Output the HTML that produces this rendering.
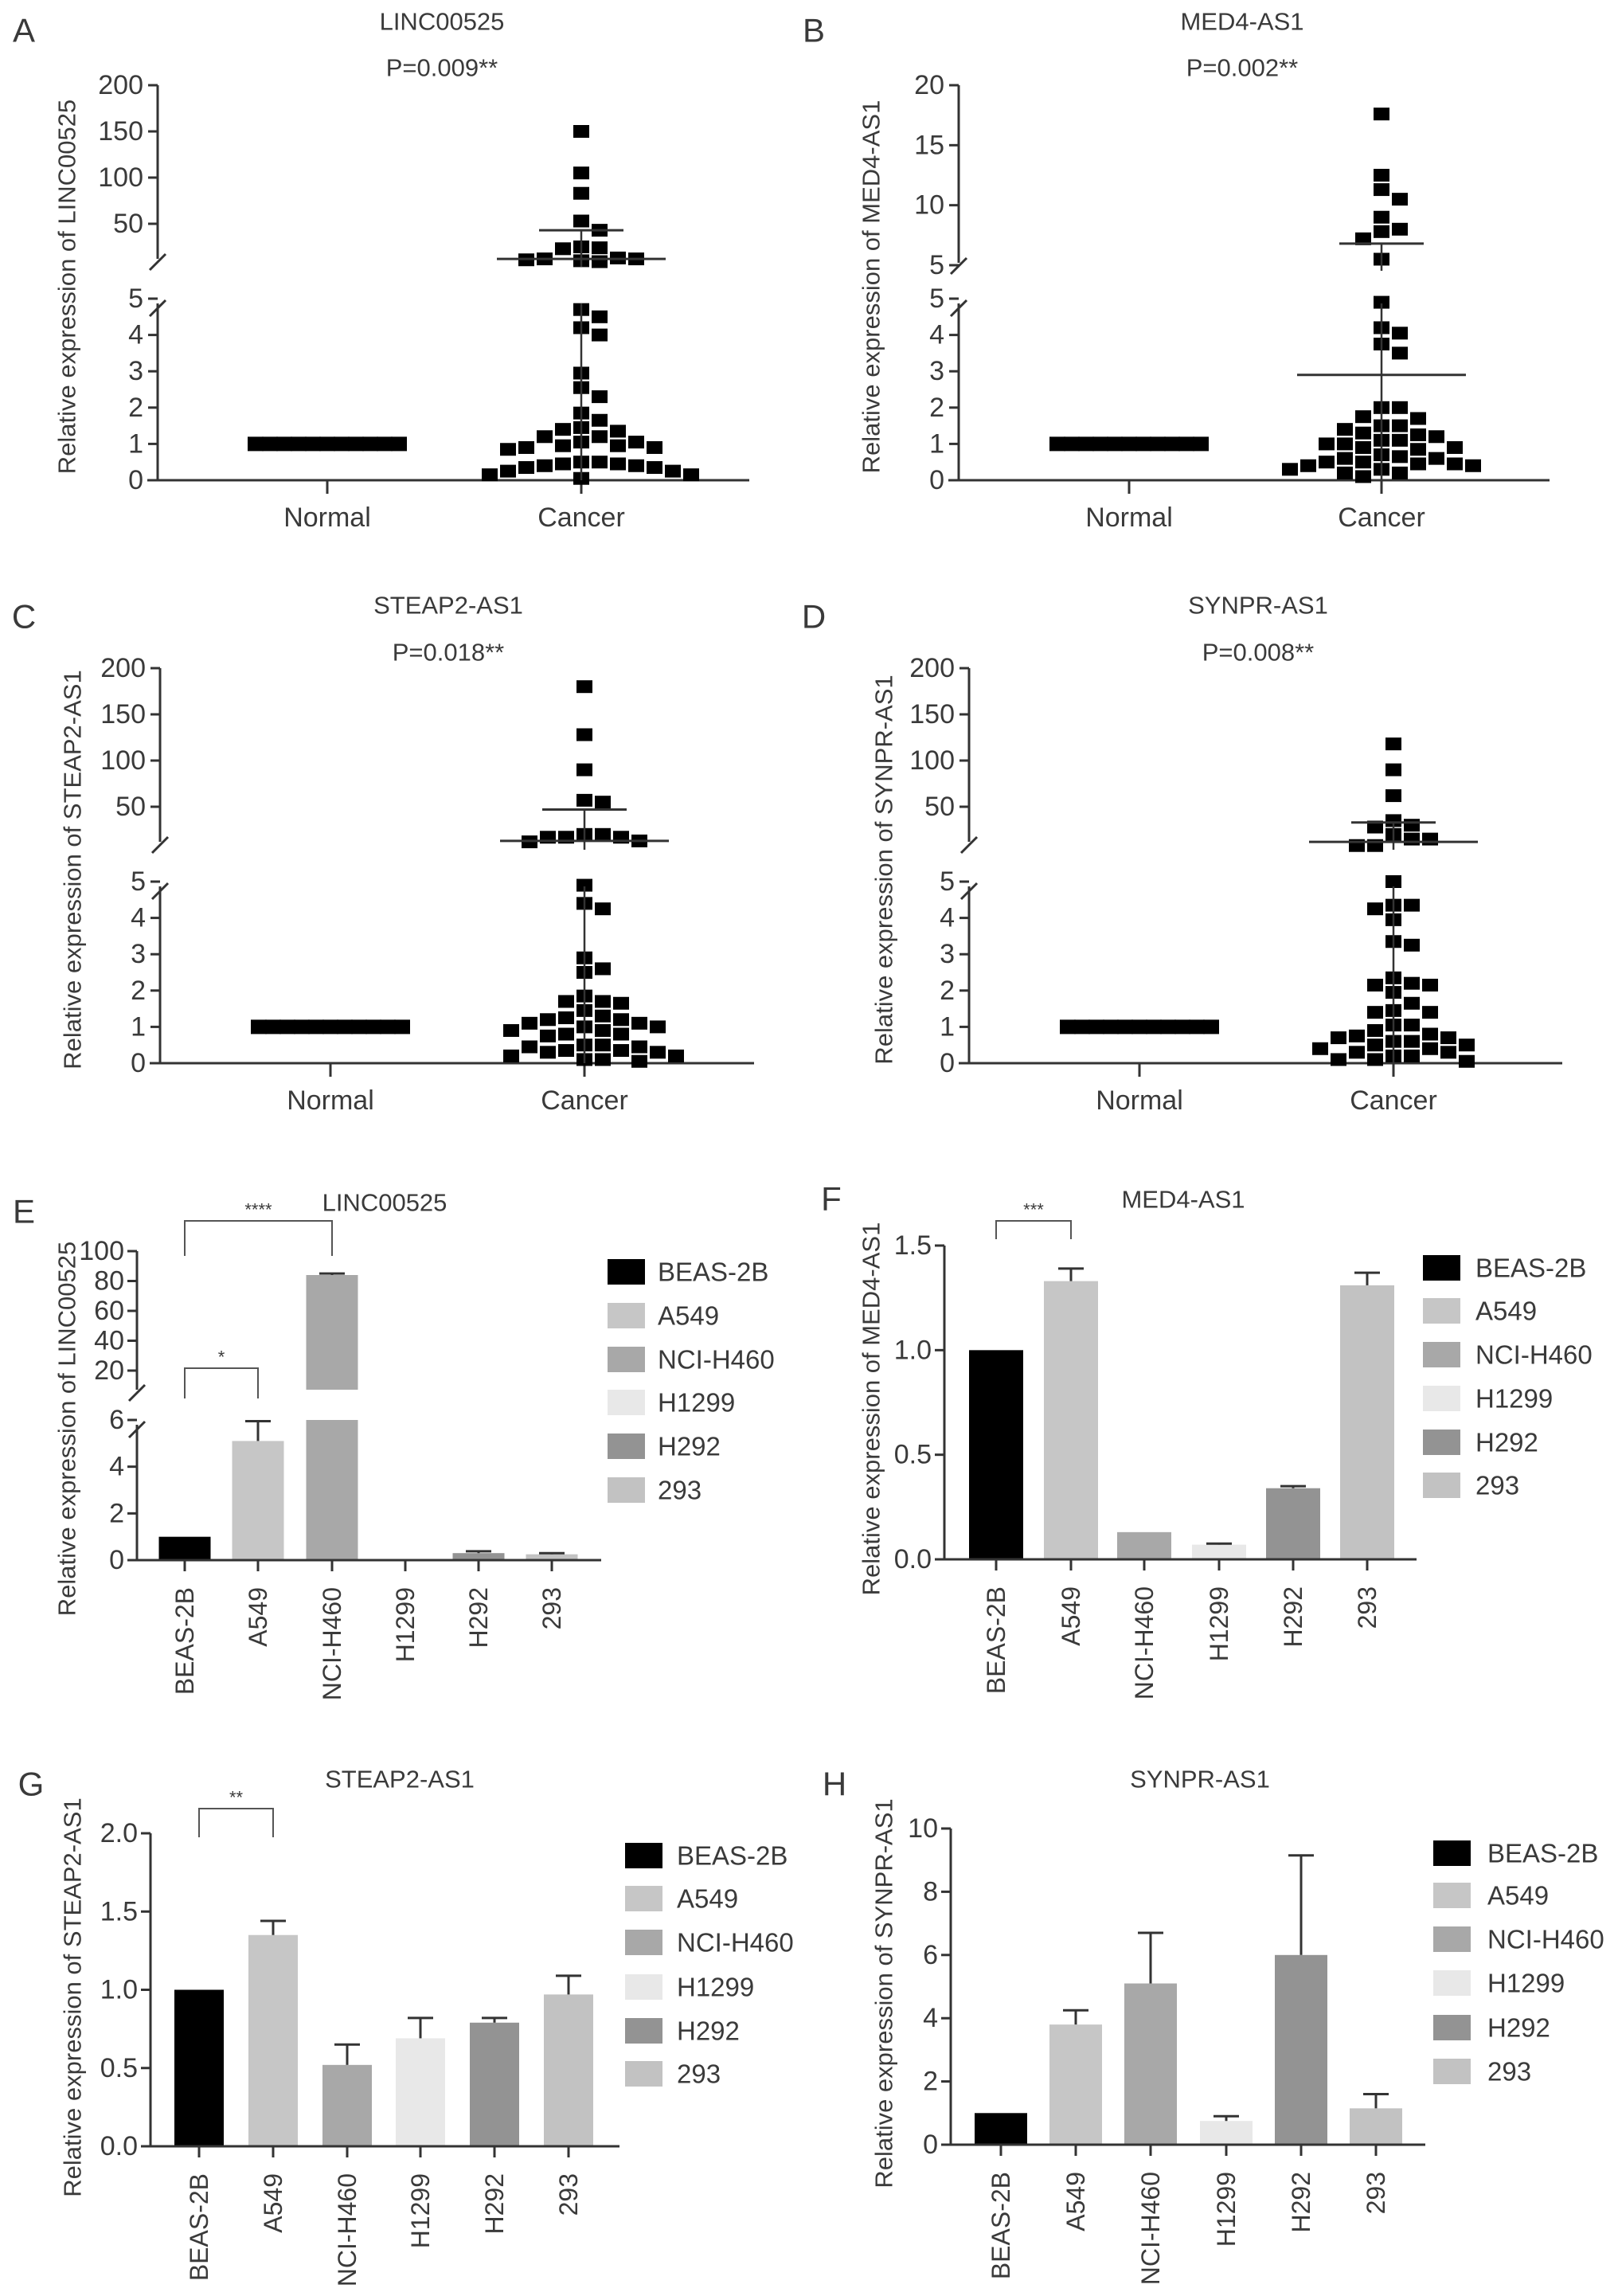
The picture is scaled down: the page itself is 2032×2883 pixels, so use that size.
<!DOCTYPE html>
<html><head><meta charset="utf-8"><style>
html,body{margin:0;padding:0;background:#fff}
svg{display:block}
text{font-family:"Liberation Sans",Arial,sans-serif;fill:#3a3a3a}
</style></head><body>
<svg id="fig" width="2032" height="2883" viewBox="0 0 2032 2883" xmlns="http://www.w3.org/2000/svg"></svg>
<script>
// ---------- DATA ----------
const scatterGenes = ["LINC00525","MED4-AS1","STEAP2-AS1","SYNPR-AS1"];
const scatterPvals = ["P=0.009**","P=0.002**","P=0.018**","P=0.008**"];
const normalValues = [1,1,1,1,1,1,1,1,1,1,1];
const cancerA = [150,105,83,53,43,25,24,23,12,11,10,9,12,13,4.5,4.7,4.2,4.0,2.95,2.55,2.3,1.85,1.65,1.45,1.35,1.4,1.2,1.05,0.95,0.9,0.85,0.9,0.95,1.05,1.2,0.5,0.45,0.4,0.35,0.25,0.15,0.05,0.15,0.25,0.35,0.4,0.45,0.5];
const cancerB = [17.6,12.5,11.3,10.5,9,8,7.8,7.2,5.5,4.9,4.2,4.05,3.75,3.5,2.0,2.0,1.7,1.75,1.5,1.5,1.4,1.3,1.2,1.1,1.0,0.9,0.85,0.9,1.0,1.1,1.25,0.7,0.6,0.5,0.45,0.4,0.3,0.2,0.1,0.2,0.3,0.4,0.45,0.5,0.6,0.65];
const cancerC = [180,128,90,57,55,20,17,13,12,17,17,20,4.9,4.4,4.25,2.9,2.6,2.5,1.85,1.65,1.7,1.7,1.45,1.3,1.2,1.1,1.0,0.9,0.8,0.75,0.8,0.9,1.0,1.1,1.2,1.25,0.5,0.45,0.35,0.3,0.2,0.1,0.05,0.1,0.2,0.3,0.35,0.45,0.5];
const cancerD = [118,90,62,35,30,28,20,15,15,8,5,8,4.35,4.25,4.35,3.95,3.35,3.25,2.35,2.15,2.15,2.2,1.95,1.65,1.45,1.4,1.4,1.05,1.05,0.9,0.8,0.75,0.7,0.7,0.6,0.5,0.4,0.3,0.2,0.1,0.05,0.1,0.2,0.3,0.4,0.5,0.6];
const cancerMeans = [12,2.9,13,12];
const cancerSD = [43,6.8,47,33];
const upperTicksA = [200,150,100,50];
const upperTicksB = [20,15,10,5];
const lowerTicks = [0,1,2,3,4,5];

const cellLines = ["BEAS-2B","A549","NCI-H460","H1299","H292","293"];
const barColors = ["#000000","#c6c6c6","#a8a8a8","#e8e8e8","#939393","#c2c2c2"];
const barE = [1.0,5.1,84,0.02,0.3,0.25];
const errE = [0,0.85,1,0,0.08,0.05];
const barF = [1.0,1.33,0.13,0.07,0.34,1.31];
const errF = [0,0.06,0,0.005,0.01,0.06];
const barG = [1.0,1.35,0.52,0.69,0.79,0.97];
const errG = [0,0.09,0.13,0.13,0.03,0.12];
const barH = [1.0,3.8,5.1,0.75,6.0,1.15];
const errH = [0,0.45,1.6,0.15,3.15,0.45];
const ticksE_up = [100,80,60,40,20];
const ticksE_low = [0,2,4,6];
const ticksF = [0,0.5,1.0,1.5];
const ticksG = [0,0.5,1.0,1.5,2.0];
const ticksH = [0,2,4,6,8,10];

// ---------- HELPERS ----------
const svg = document.getElementById('fig');
const NS = "http://www.w3.org/2000/svg";
function mk(tag, attrs, parent){
  const e = document.createElementNS(NS, tag);
  for (const k in attrs) e.setAttribute(k, attrs[k]);
  (parent||svg).appendChild(e); return e;
}
function txt(s, x, y, size, anchor, parent, rot){
  const t = mk('text', {x:x, y:y, 'font-size':size, 'text-anchor':anchor||'middle', 'dominant-baseline':'central'}, parent);
  if (rot) t.setAttribute('transform', `rotate(${rot} ${x} ${y})`);
  t.textContent = s; return t;
}
function line(x1,y1,x2,y2,w,parent){ return mk('line',{x1,y1,x2,y2,stroke:'#333','stroke-width':w||3},parent); }
function lin(d0,d1,p0,p1){ return v => p0 + (v-d0)*(p1-p0)/(d1-d0); }

// ---------- SCATTER PANELS ----------
const scatterCfg = [
  {letter:'A', lx:30, ly:38, ax:198, y0:603, y5:375, up:[200,107,50,281], upTicks:upperTicksA, upEnd:325, nx:411, cx:730, end:941, tx:555, ty:27, py:85, ytx:84, data:cancerA},
  {letter:'B', lx:1022, ly:38, ax:1204, y0:603, y5:375, up:[20,107,5,333], upTicks:upperTicksB, upEnd:330, nx:1418, cx:1735, end:1946, tx:1560, ty:27, py:85, ytx:1094, data:cancerB},
  {letter:'C', lx:30, ly:774, ax:201, y0:1335, y5:1107, up:[200,839,50,1013], upTicks:upperTicksA, upEnd:1057, nx:415, cx:734, end:947, tx:563, ty:760, py:819, ytx:91, data:cancerC},
  {letter:'D', lx:1022, ly:774, ax:1217, y0:1335, y5:1107, up:[200,839,50,1013], upTicks:upperTicksA, upEnd:1057, nx:1431, cx:1750, end:1962, tx:1580, ty:760, py:819, ytx:1110, data:cancerD}
];

function swarm(values, cx, yfun, w, h){
  const placed = [];
  const order = values.map((v,i)=>i).sort((a,b)=>values[b]-values[a]);
  order.forEach(i=>{
    const y = yfun(values[i]);
    for (let k=0;k<60;k++){
      const off = (k===0)?0:((k%2)?1:-1)*Math.ceil(k/2)*w;
      const x = cx+off;
      if (!placed.some(p=>Math.abs(p.x-x)<w-0.5 && Math.abs(p.y-y)<h)){ placed.push({x,y}); break; }
    }
  });
  return placed;
}

scatterCfg.forEach((c,pi)=>{
  const g = mk('g',{});
  
  
  const lt = txt(c.letter, c.lx, c.ly, 42, 'middle', g);
  
  
  const tt = txt(scatterGenes[pi], c.tx, c.ty, 31, 'middle', g);
  
  
  const pt = txt(scatterPvals[pi], c.tx, c.py, 31, 'middle', g);
  
  
  const yl = lin(0,5,c.y0,c.y5);
  const yu = lin(c.up[0],c.up[2],c.up[1],c.up[3]);
  const Y = v => v<=5 ? yl(v) : yu(v);
  const ya = mk('g',{},g);
  
  
  line(c.ax, c.up[1], c.ax, c.upEnd, 3, ya);
  line(c.ax, c.y5+6, c.ax, c.y0, 3, ya);
  line(c.ax-10, c.upEnd+14, c.ax+10, c.upEnd-6, 3, ya);
  line(c.ax-10, c.y5+22, c.ax+10, c.y5+2, 3, ya);
  c.upTicks.forEach(v=>{ line(c.ax-12, yu(v), c.ax, yu(v), 3, ya); txt(String(v), c.ax-18, yu(v), 34, 'end', ya); });
  lowerTicks.forEach(v=>{ line(c.ax-12, yl(v), c.ax, yl(v), 3, ya); txt(String(v), c.ax-18, yl(v), 34, 'end', ya); });
  const yt = txt('Relative expression of '+scatterGenes[pi], c.ytx, (c.up[1]+c.y0)/2+5, 31, 'middle', g, -90);
  
  
  const xa = mk('g',{},g);
  
  
  line(c.ax-13, c.y0, c.end, c.y0, 3, xa);
  [[c.nx,'Normal'],[c.cx,'Cancer']].forEach(([x,l])=>{ line(x,c.y0,x,c.y0+17,3,xa); txt(l, x, c.y0+47, 34, 'middle', xa); });
  const pts = mk('g',{},g);
  
  
  swarm(normalValues, c.nx, Y, 18, 15).forEach(p=>{
    const r = mk('rect',{x:p.x-10,y:p.y-9,width:20,height:18,fill:'#000'},pts);
    
    
  });
  swarm(c.data, c.cx, Y, 23, 17).forEach(p=>{
    const r = mk('rect',{x:p.x-10,y:p.y-8,width:20,height:16,fill:'#000'},pts);
    
    
  });
  const ms = mk('g',{},g);
  
  
  const ym = Y(cancerMeans[pi]), ys = Y(cancerSD[pi]);
  line(c.cx-106, ym, c.cx+106, ym, 3, ms);
  line(c.cx-53, ys, c.cx+53, ys, 3, ms);
  line(c.cx, ys, c.cx, c.upEnd+10, 2.5, ms);
  line(c.cx, c.y5+6, c.cx, c.y0, 2.5, ms);
});

// ---------- BAR PANELS ----------
const barCfg = [
  {letter:'E', gene:'LINC00525', lx:30, ly:1521, ax:172, cats:[232,324,417,509,601,693], bw:65, end:755,
   low:[0,1959,6,1783], up:[100,1571,20,1721], upBottom:1745, lowTicks:ticksE_low, upTicks:ticksE_up, dec:false,
   vals:barE, errs:errE, tx:483, ty:1510, ytx:84, yty:1794,
   legSw:763, legTx:826, legRows:[1597,1652,1707,1761,1816,1871],
   br:[{a:0,b:2,top:1533,leg:1577,s:'****'},{a:0,b:1,top:1718,leg:1756,s:'*'}]},
  {letter:'F', gene:'MED4-AS1', lx:1044, ly:1505, ax:1186, cats:[1251,1345,1437,1531,1624,1717], bw:68, end:1779,
   low:[0,1958,1.5,1564], lowTicks:ticksF, dec:true,
   vals:barF, errs:errF, tx:1486, ty:1506, ytx:1094, yty:1769,
   legSw:1787, legTx:1853, legRows:[1592,1646,1701,1756,1811,1865],
   br:[{a:0,b:1,top:1533,leg:1556,s:'***'}]},
  {letter:'G', gene:'STEAP2-AS1', lx:39, ly:2240, ax:189, cats:[250,343,436,528,621,714], bw:62, end:778,
   low:[0,2695,2,2302], lowTicks:ticksG, dec:true,
   vals:barG, errs:errG, tx:502, ty:2234, ytx:91, yty:2508,
   legSw:785, legTx:850, legRows:[2330,2384,2439,2495,2550,2604],
   br:[{a:0,b:1,top:2271,leg:2307,s:'**'}]},
  {letter:'H', gene:'SYNPR-AS1', lx:1048, ly:2240, ax:1194, cats:[1257,1351,1445,1540,1634,1728], bw:66, end:1790,
   low:[0,2693,10,2296], lowTicks:ticksH, dec:false,
   vals:barH, errs:errH, tx:1507, ty:2234, ytx:1110, yty:2503,
   legSw:1800, legTx:1868, legRows:[2327,2380,2435,2490,2546,2601], br:[]}
];

barCfg.forEach(c=>{
  const g = mk('g',{});
  
  
  const lt = txt(c.letter, c.lx, c.ly, 42, 'middle', g);
  
  
  const tt = txt(c.gene, c.tx, c.ty, 31, 'middle', g);
  
  
  const yl = lin(c.low[0],c.low[2],c.low[1],c.low[3]);
  const yu = c.up ? lin(c.up[0],c.up[2],c.up[1],c.up[3]) : null;
  const y0 = c.low[1];
  const bars = mk('g',{},g);
  
  
  c.vals.forEach((v,i)=>{
    const x = c.cats[i]-c.bw/2;
    let topY;
    if (c.up && v>c.low[2]){
      const r1 = mk('rect',{x:x,y:c.low[3],width:c.bw,height:y0-c.low[3],fill:barColors[i]},bars);
      
      
      topY = yu(v);
      const r2 = mk('rect',{x:x,y:topY,width:c.bw,height:c.upBottom-topY,fill:barColors[i]},bars);
      
      
    } else {
      topY = yl(v);
      const r = mk('rect',{x:x,y:topY,width:c.bw,height:Math.max(2,y0-topY),fill:barColors[i]},bars);
      
      
    }
    const e = c.errs[i];
    if (e>0){
      const ve = v+e;
      const ey = (c.up && ve>c.low[2]) ? yu(ve) : yl(ve);
      const eg = mk('g',{},bars);
      
      
      line(c.cats[i], topY, c.cats[i], ey, 3, eg);
      line(c.cats[i]-16, ey, c.cats[i]+16, ey, 3, eg);
    }
  });
  const ya = mk('g',{},g);
  
  
  if (c.up){
    line(c.ax, c.up[1], c.ax, c.upBottom, 3, ya);
    line(c.ax, c.low[3]+6, c.ax, y0, 3, ya);
    line(c.ax-10, c.upBottom+14, c.ax+10, c.upBottom-6, 3, ya);
    line(c.ax-10, c.low[3]+22, c.ax+10, c.low[3]+2, 3, ya);
    c.upTicks.forEach(v=>{ line(c.ax-12,yu(v),c.ax,yu(v),3,ya); txt(String(v), c.ax-16, yu(v), 34, 'end', ya); });
  } else {
    line(c.ax, c.low[3], c.ax, y0, 3, ya);
  }
  c.lowTicks.forEach(v=>{ line(c.ax-12,yl(v),c.ax,yl(v),3,ya); txt(c.dec? v.toFixed(1) : String(v), c.ax-16, yl(v), 34, 'end', ya); });
  const yt = txt('Relative expression of '+c.gene, c.ytx, c.yty, 31, 'middle', g, -90);
  
  
  const xa = mk('g',{},g);
  
  
  line(c.ax-12, y0, c.end, y0, 3, xa);
  c.cats.forEach((x,i)=>{ line(x,y0,x,y0+14,3,xa); txt(cellLines[i], x, y0+34, 32, 'end', xa, -90); });
  c.br.forEach(b=>{
    const bg = mk('g',{},g);
    
    
    const x1=c.cats[b.a], x2=c.cats[b.b];
    mk('polyline',{points:`${x1},${b.leg} ${x1},${b.top} ${x2},${b.top} ${x2},${b.leg}`,fill:'none',stroke:'#555','stroke-width':2},bg);
    txt(b.s, (x1+x2)/2, b.top-14, 22, 'middle', bg);
  });
  const lg = mk('g',{},g);
  
  
  cellLines.forEach((n,i)=>{
    const le = mk('g',{},lg);
    
    
    mk('rect',{x:c.legSw,y:c.legRows[i]-16,width:47,height:32,fill:barColors[i]},le);
    txt(n, c.legTx, c.legRows[i], 33, 'start', le);
  });
});
</script>
</body></html>
